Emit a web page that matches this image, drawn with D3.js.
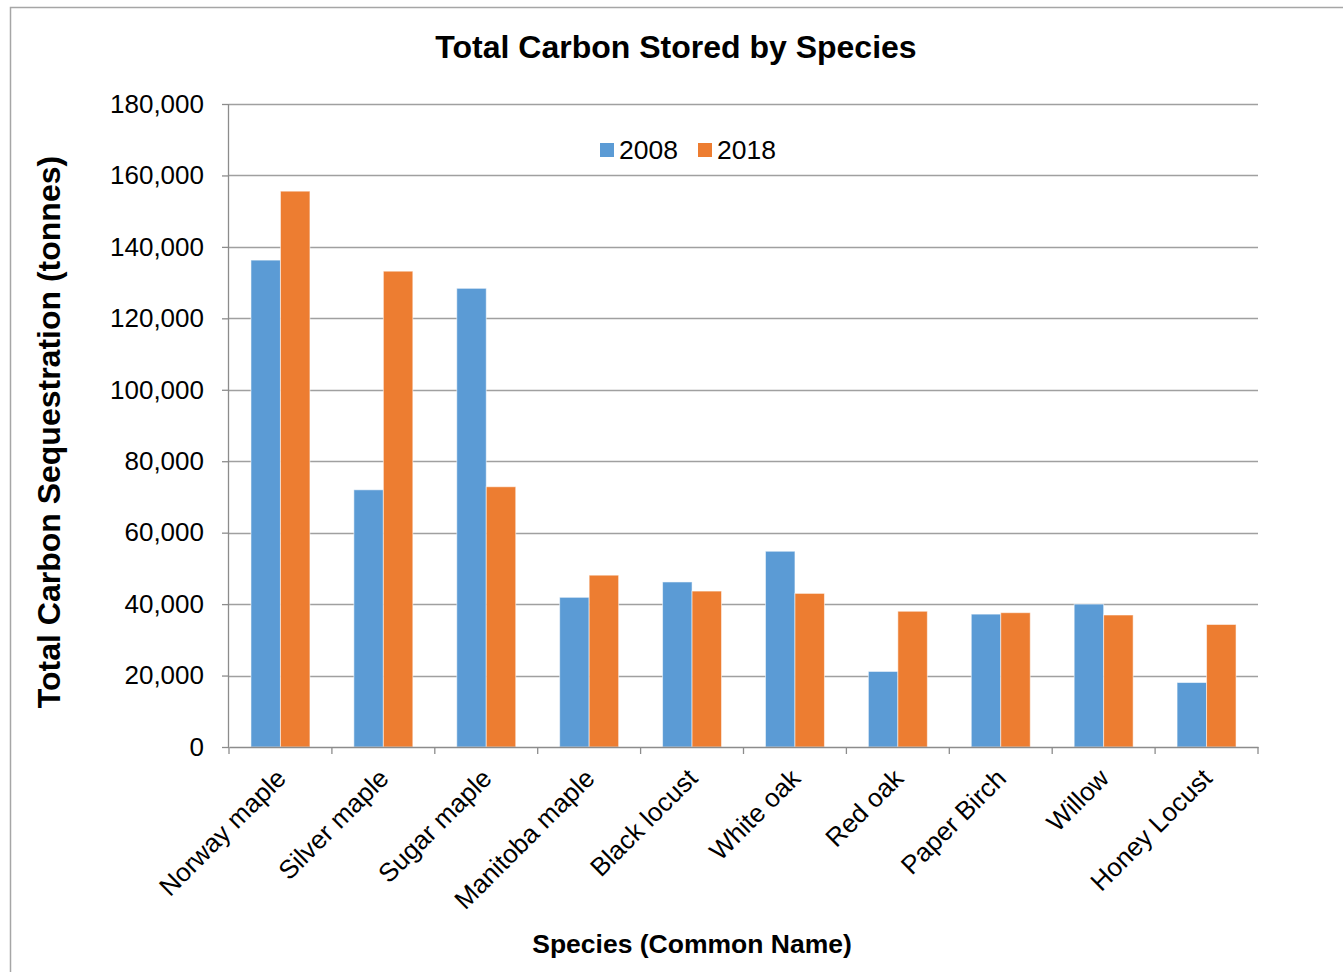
<!DOCTYPE html>
<html><head><meta charset="utf-8">
<script src="https://d3js.org/d3.v7.min.js"></script>
<style>body{margin:0;background:#fff}svg{display:block}text{font-family:"Liberation Sans",Arial,sans-serif}</style>
</head><body><svg id="c" width="1343" height="972"></svg>
<script>
const categories = ["Norway maple","Silver maple","Sugar maple","Manitoba maple","Black locust","White oak","Red oak","Paper Birch","Willow","Honey Locust"];
const seriesNames = ["2008","2018"];
const values2008 = [136300,72000,128400,41900,46200,54800,21150,37200,40000,18050];
const values2018 = [155600,133200,72850,48100,43650,43000,38000,37600,36950,34300];
const yTicks = [0,20000,40000,60000,80000,100000,120000,140000,160000,180000];
const colors = ["#5B9BD5","#ED7D31"];

const svg = d3.select("#c");
const M = {l:229, r:1258, t:104, b:747};

// outer frame
svg.append("path").attr("d","M10.5,972 V7.5 H1343").attr("fill","none").attr("stroke","#A6A6A6").attr("stroke-width",1.5);

const x = d3.scaleBand().domain(categories).range([M.l,M.r]).paddingInner(0).paddingOuter(0);
const xs = d3.scaleBand().domain(seriesNames).range([0,x.bandwidth()]).paddingInner(0).paddingOuter(0.745);
const y = d3.scaleLinear().domain([0,180000]).range([M.b,M.t]);

// grid
svg.append("g").selectAll("line").data(yTicks.filter(d=>d>0)).join("line")
  .attr("x1",M.l).attr("x2",M.r).attr("y1",d=>Math.round(y(d))+0.5).attr("y2",d=>Math.round(y(d))+0.5)
  .attr("stroke","#A0A0A0").attr("stroke-width",1.3);

// bars
const data = categories.map((c,i)=>({c, vals:[values2008[i],values2018[i]]}));
const g = svg.append("g");
data.forEach(d=>{
  d.vals.forEach((v,j)=>{
    g.append("rect").attr("x",x(d.c)+xs(seriesNames[j])).attr("width",xs.bandwidth())
     .attr("y",y(v)).attr("height",y(0)-y(v))
     .attr("fill",colors[j]).attr("stroke","rgba(255,255,255,0.55)").attr("stroke-width",1);
  });
});

// y axis
const ya = svg.append("g").attr("transform",`translate(${M.l},0)`)
  .call(d3.axisLeft(y).tickValues(yTicks).tickSize(7).tickPadding(18).tickFormat(d3.format(",")));
ya.select(".domain").attr("stroke","#8C8C8C").attr("stroke-width",1.3).attr("d",`M-0.5,${M.t}V${M.b}`);
ya.selectAll(".tick line").attr("stroke","#8C8C8C").attr("stroke-width",1.3);
ya.selectAll(".tick text").attr("font-size",26).attr("fill","#000").attr("font-family","Liberation Sans, Arial, sans-serif");

// x axis
const xa = svg.append("g").attr("transform",`translate(0,${M.b})`)
  .call(d3.axisBottom(x).tickSize(0).tickFormat(""));
xa.select(".domain").attr("stroke","#8C8C8C").attr("stroke-width",1.3);
xa.selectAll(".tick").remove();
const bounds = d3.range(categories.length+1).map(i=>M.l + i*x.step());
xa.selectAll("line.tk").data(bounds).join("line").attr("class","tk")
  .attr("x1",d=>d).attr("x2",d=>d).attr("y1",0).attr("y2",7).attr("stroke","#8C8C8C").attr("stroke-width",1.3);
xa.selectAll("text.cl").data(categories).join("text").attr("class","cl")
  .attr("transform",d=>`translate(${x(d)+x.bandwidth()/2+7},${33}) rotate(-45)`)
  .attr("text-anchor","end").attr("font-size",26).attr("fill","#000").text(d=>d);

// titles
svg.append("text").attr("x",676).attr("y",58).attr("text-anchor","middle")
  .attr("font-size",32).attr("font-weight","bold").text("Total Carbon Stored by Species");
svg.append("text").attr("x",692).attr("y",953).attr("text-anchor","middle")
  .attr("font-size",26.5).attr("font-weight","bold").text("Species (Common Name)");
svg.append("text").attr("transform","translate(60,432) rotate(-90)").attr("text-anchor","middle")
  .attr("font-size",32).attr("font-weight","bold").text("Total Carbon Sequestration (tonnes)");

// legend
const lg = svg.append("g");
const lx = [600,698];
seriesNames.forEach((s,j)=>{
  lg.append("rect").attr("x",lx[j]).attr("y",143).attr("width",14).attr("height",14).attr("fill",colors[j]);
  lg.append("text").attr("x",lx[j]+19).attr("y",159).attr("font-size",26.5).attr("fill","#000").text(s);
});
</script></body></html>
